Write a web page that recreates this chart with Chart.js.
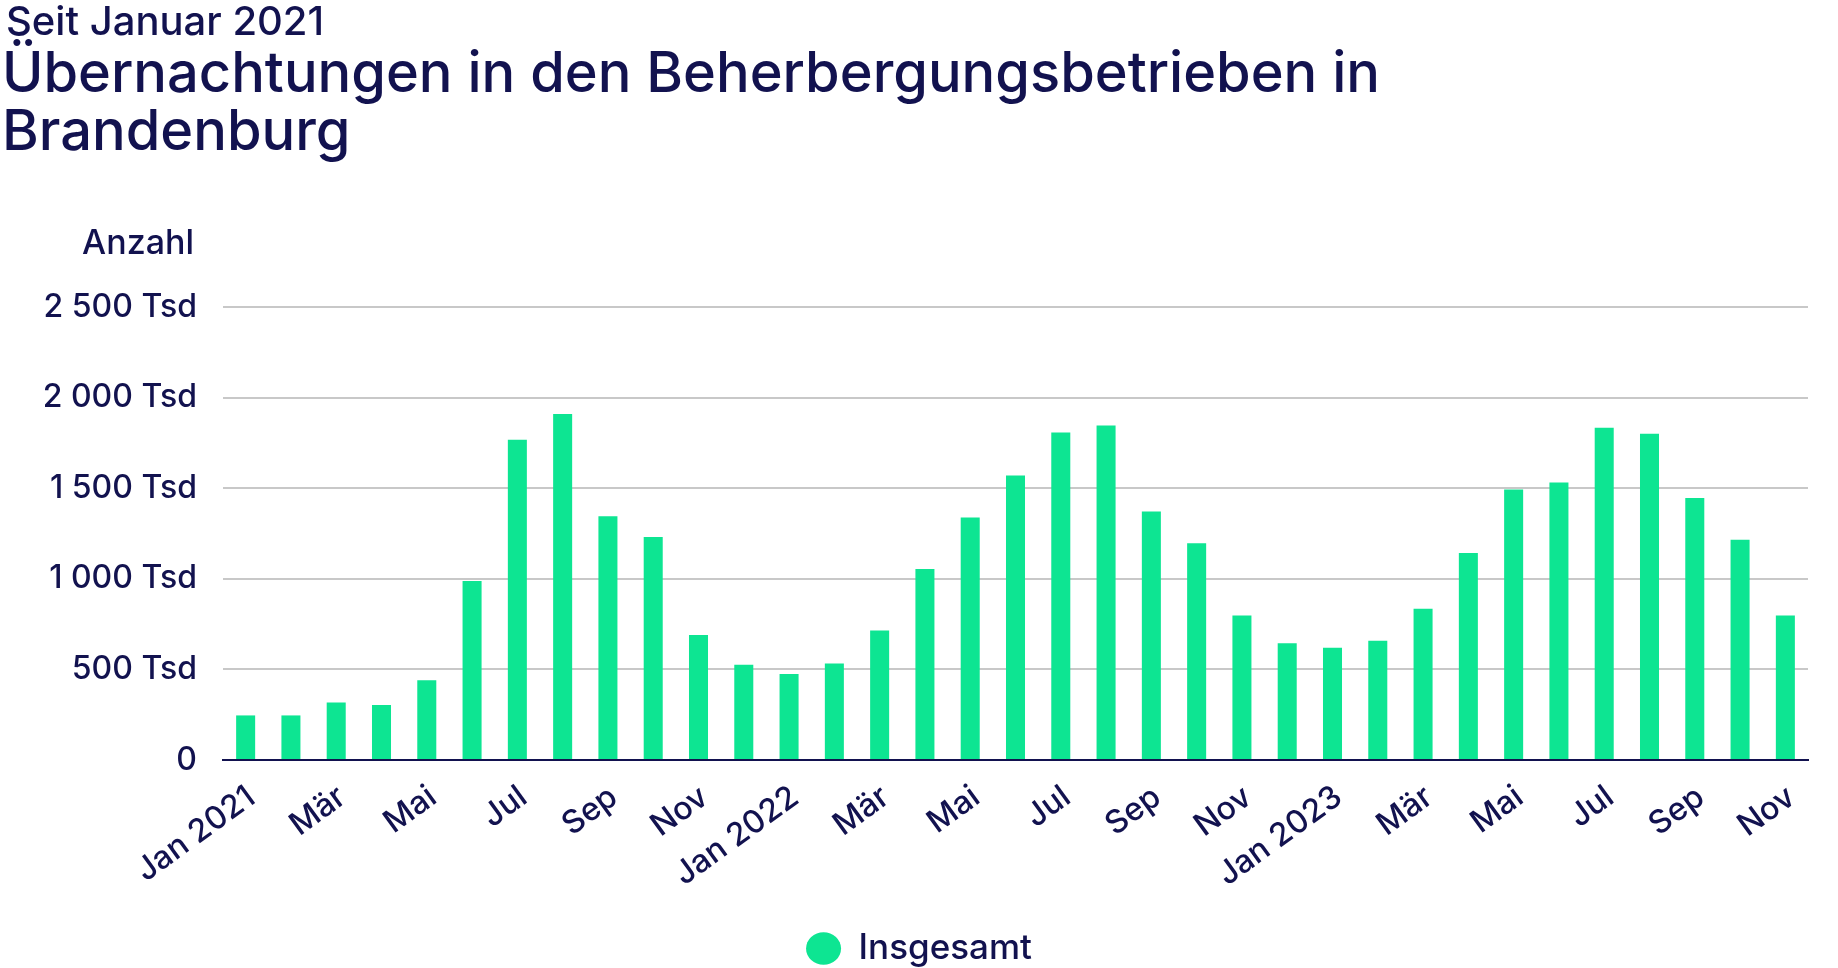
<!DOCTYPE html>
<html lang="de">
<head>
<meta charset="utf-8">
<title>Übernachtungen Brandenburg</title>
<script src="https://cdn.jsdelivr.net/npm/chart.js@4/dist/chart.umd.min.js"></script>
<style>
  html, body { margin: 0; padding: 0; background: #fff; }
  body { width: 1838px; height: 968px; position: relative; overflow: hidden; font-family: Inter, sans-serif; font-weight: 500; color: #12124f; }
  #wrap { position: absolute; left: 0; top: 0; width: 1838px; height: 968px; }
  .sub { position: absolute; left: 6px; top: -4px; font-size: 40px; white-space: nowrap; }
  .titel { position: absolute; left: 2px; top: 43px; font-size: 56px; line-height: 58px; width: 1500px; }
  .anzahl { position: absolute; right: 1644px; top: 221px; font-size: 34px; }
</style>
</head>
<body>
<div id="wrap"><canvas id="chart"></canvas></div>
<div class="sub">Seit Januar 2021</div>
<div class="titel">Übernachtungen in den Beherbergungsbetrieben in<br>Brandenburg</div>
<div class="anzahl">Anzahl</div>
<script>
const navy = "#12124f";
const gruen = "#0de592";

// Monate Jan 2021 bis Nov 2023
const monate = [
    "Jan 2021", "Feb", "Mär", "Apr", "Mai", "Jun", "Jul", "Aug", "Sep", "Okt", "Nov", "Dez",
    "Jan 2022", "Feb", "Mär", "Apr", "Mai", "Jun", "Jul", "Aug", "Sep", "Okt", "Nov", "Dez",
    "Jan 2023", "Feb", "Mär", "Apr", "Mai", "Jun", "Jul", "Aug", "Sep", "Okt", "Nov"
];

// Übernachtungen in Tsd
const insgesamt = [
    246, 246, 317, 304, 440, 988, 1768, 1910, 1345, 1230, 690, 525,
    474, 532, 715, 1054, 1338, 1570, 1808, 1846, 1372, 1196, 797, 645,
    620, 658, 835, 1142, 1493, 1532, 1833, 1801, 1446, 1216, 797
];

const yTicks = [0, 500, 1000, 1500, 2000, 2500];

function formatTsd(v) {
    if (v === 0) return "0";
    return String(v).replace(/\B(?=(\d{3})+(?!\d))/g, " ") + " Tsd";
}

const ctx = document.getElementById("chart").getContext("2d");
new Chart(ctx, {
    type: "bar",
    data: {
        labels: monate,
        datasets: [{
            label: "Insgesamt",
            data: insgesamt,
            backgroundColor: gruen,
            borderWidth: 0,
            barPercentage: 0.84,
            categoryPercentage: 0.5
        }]
    },
    options: {
        responsive: true,
        maintainAspectRatio: false,
        animation: false,
        // links 30 + Achsenbreite 193 = 223, damit die Legende mittig sitzt
        layout: { padding: { left: 30, right: 30, top: 307, bottom: -8 } },
        plugins: {
            tooltip: { enabled: false },
            legend: {
                position: "bottom",
                labels: {
                    usePointStyle: true,
                    pointStyle: "circle",
                    pointStyleWidth: 35,
                    boxWidth: 23,
                    boxHeight: 23,
                    padding: 4,
                    color: navy,
                    font: { family: "Inter", size: 35, weight: "500" }
                }
            }
        },
        scales: {
            x: {
                grid: { display: false, drawTicks: false },
                border: { display: true, color: navy, width: 2 },
                afterFit(scale) { scale.height = 167; },
                ticks: {
                    autoSkip: false,
                    maxRotation: 36,
                    minRotation: 36,
                    padding: 18,
                    labelOffset: 6,
                    color: navy,
                    font: { family: "Inter", size: 32, weight: "500" },
                    callback(value, index) {
                        return index % 2 === 0 ? monate[index] : "";
                    }
                }
            },
            y: {
                min: 0,
                max: 2500,
                afterBuildTicks(scale) { scale.ticks = yTicks.map(v => ({ value: v })); },
                afterFit(scale) { scale.width = 193; },
                grid: {
                    drawTicks: false,
                    lineWidth: 2,
                    color: c => c.tick && c.tick.value === 0 ? "rgba(0,0,0,0)" : "#c8c8c8"
                },
                border: { display: false },
                ticks: {
                    padding: 26,
                    color: navy,
                    font: { family: "Inter", size: 32, weight: "500" },
                    callback: v => formatTsd(v)
                }
            }
        }
    }
});
</script>
</body>
</html>
